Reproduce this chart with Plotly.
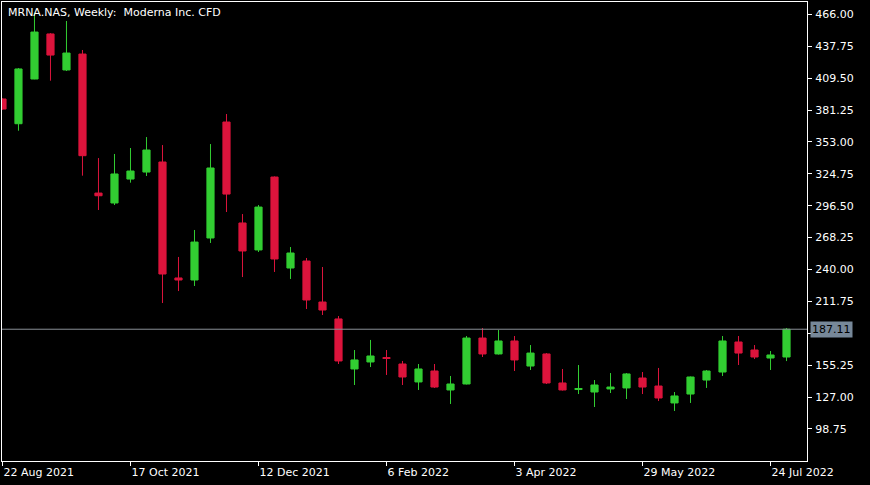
import pandas as pd
import plotly.graph_objects as go

# Weekly candles starting 22 Aug 2021
week_start = "2021-08-22"
n_weeks = 50
dates = pd.date_range(start=week_start, periods=n_weeks, freq="7D")

opens = [391.0, 369.1, 408.7, 448.6, 416.7, 430.8, 307.7, 298.9, 320.1, 326.3,
         335.2, 232.5, 230.7, 267.9, 370.6, 281.2, 257.3, 321.9, 241.3, 247.5,
         211.2, 196.2, 151.9, 158.1, 162.0, 156.3, 140.4, 150.1, 133.3, 138.6,
         179.3, 165.2, 176.7, 154.5, 165.2, 139.5, 133.7, 131.5, 134.2, 135.1,
         143.9, 136.8, 121.8, 129.7, 142.1, 149.2, 175.8, 168.7, 161.6, 162.5]
highs = [391.5, 418.4, 467.5, 449.4, 460.1, 434.4, 338.7, 342.3, 347.6, 357.3,
         350.2, 251.1, 275.0, 351.1, 377.7, 289.1, 297.1, 322.4, 259.9, 250.2,
         242.2, 198.8, 168.7, 177.6, 168.7, 159.0, 156.3, 156.3, 145.7, 181.1,
         188.2, 186.4, 181.1, 173.1, 166.0, 151.9, 155.4, 142.1, 148.3, 148.3,
         149.2, 152.8, 131.5, 145.2, 151.0, 181.1, 181.1, 173.1, 167.8, 188.2]
lows = [381.5, 362.9, 408.5, 407.2, 415.8, 323.1, 292.7, 297.1, 316.9, 322.8,
        210.3, 220.9, 225.4, 263.5, 290.9, 233.3, 255.5, 237.8, 231.6, 205.0,
        199.7, 156.3, 137.7, 153.6, 146.6, 137.7, 133.3, 135.1, 120.9, 138.2,
        162.5, 164.7, 150.1, 151.0, 138.6, 132.8, 129.7, 118.2, 130.6, 125.3,
        129.7, 123.5, 114.7, 121.8, 135.1, 145.7, 155.4, 160.7, 151.0, 158.9]
closes = [382.1, 417.6, 450.3, 429.9, 431.7, 340.8, 305.3, 324.6, 327.2, 345.8,
          236.0, 230.7, 264.3, 329.9, 306.8, 256.4, 295.3, 249.3, 254.6, 213.0,
          204.1, 159.0, 159.9, 163.4, 161.2, 144.8, 151.9, 135.9, 138.6, 179.3,
          165.2, 176.7, 159.9, 166.0, 139.5, 133.3, 134.6, 137.7, 135.9, 147.5,
          135.9, 126.2, 128.0, 144.8, 150.1, 176.7, 166.0, 162.5, 164.3, 187.11]

y_ticks = [466.00, 437.75, 409.50, 381.25, 353.00, 324.75, 296.50, 268.25,
           240.00, 211.75, 183.50, 155.25, 127.00, 98.75]
y_tick_labels = ["466.00", "437.75", "409.50", "381.25", "353.00", "324.75",
                 "296.50", "268.25", "240.00", "211.75", "", "155.25",
                 "127.00", "98.75"]
x_tick_dates = ["2021-08-22", "2021-10-17", "2021-12-12", "2022-02-06",
                "2022-04-03", "2022-05-29", "2022-07-24"]
x_tick_labels = ["22 Aug 2021", "17 Oct 2021", "12 Dec 2021", "6 Feb 2022",
                 "3 Apr 2022", "29 May 2022", "24 Jul 2022"]
title_text = "MRNA.NAS, Weekly:  Moderna Inc. CFD"
last_price = closes[-1]

UP = "#32CD32"
DOWN = "#DC143C"
FONT = "DejaVu Sans"

fig = go.Figure()
fig.add_trace(go.Candlestick(
    x=dates, open=opens, high=highs, low=lows, close=closes,
    increasing=dict(line=dict(color=UP, width=1), fillcolor=UP),
    decreasing=dict(line=dict(color=DOWN, width=1), fillcolor=DOWN),
    whiskerwidth=0, showlegend=False, hoverinfo="skip",
))

start = pd.Timestamp(week_start)
x_range = [start - pd.Timedelta(days=7 * 0.03), start + pd.Timedelta(days=7 * 50.28)]

fig.add_shape(type="line", xref="paper", x0=0, x1=1, yref="y",
              y0=last_price, y1=last_price,
              line=dict(color="#8a8f96", width=1), layer="above")

fig.add_annotation(xref="paper", yref="y", x=1, y=last_price,
                   xanchor="left", yanchor="middle", xshift=3,
                   text=f"{last_price:.2f}", showarrow=False,
                   bgcolor="#778899", borderpad=1,
                   font=dict(family=FONT, size=11, color="black"))

fig.add_annotation(xref="paper", yref="paper", x=0, y=1,
                   xanchor="left", yanchor="top", xshift=4, yshift=-2,
                   text=title_text, showarrow=False,
                   font=dict(family=FONT, size=11, color="white"))

fig.update_layout(
    width=870, height=485,
    margin=dict(l=2, r=63, t=2, b=24),
    paper_bgcolor="black", plot_bgcolor="black",
    font=dict(family=FONT, size=11, color="white"),
    boxgap=0.36,
    showlegend=False,
    hovermode=False,
    xaxis=dict(
        type="date", range=x_range, rangeslider=dict(visible=False),
        showgrid=False, zeroline=False,
        showline=True, mirror=True, linecolor="white", linewidth=1,
        ticks="outside", ticklen=4, tickcolor="white", tickwidth=1,
        tickvals=x_tick_dates, ticktext=x_tick_labels,
        ticklabelposition="outside right", ticklabelstandoff=1,
        tickfont=dict(family=FONT, size=11, color="white"),
    ),
    yaxis=dict(
        side="right", range=[70.4, 476.9],
        showgrid=False, zeroline=False,
        showline=True, mirror=True, linecolor="white", linewidth=1,
        ticks="outside", ticklen=4, tickcolor="white", tickwidth=1,
        tickvals=y_ticks, ticktext=y_tick_labels,
        ticklabelstandoff=1,
        tickfont=dict(family=FONT, size=11, color="white"),
    ),
)

fig.write_html(
    "out.html",
    config={"displayModeBar": False, "staticPlot": True},
    post_script="document.body.style.margin='0';document.body.style.padding='0';"
                "document.body.style.background='black';",
)
